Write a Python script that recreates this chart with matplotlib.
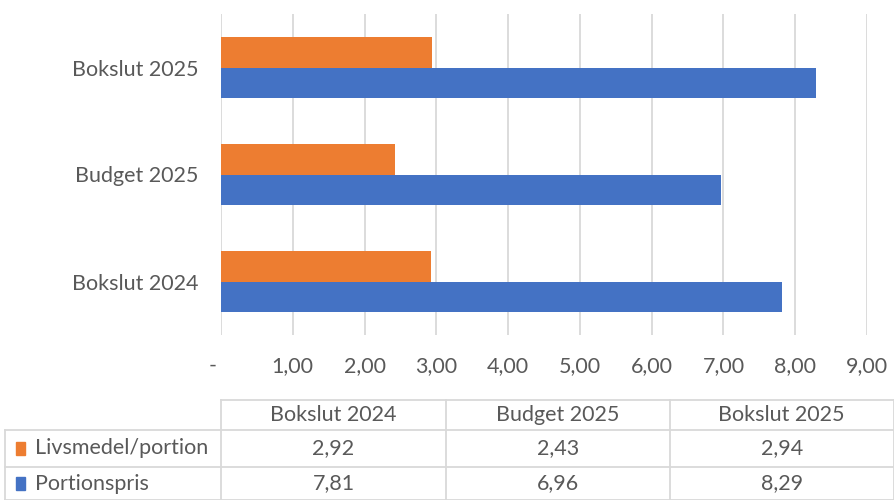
import matplotlib
matplotlib.use("Agg")
import matplotlib.pyplot as plt
from matplotlib.patches import Rectangle

categories = ["Bokslut 2024", "Budget 2025", "Bokslut 2025"]
series_names = ["Livsmedel/portion", "Portionspris"]
livsmedel = [2.92, 2.43, 2.94]
portionspris = [7.81, 6.96, 8.29]
x_ticks = [0, 1, 2, 3, 4, 5, 6, 7, 8, 9]

ORANGE = "#ED7D31"
BLUE = "#4472C4"
GRID = "#D9D9D9"
TXT = "#595959"
FONT = "Lato"
FS = 15.5

plt.rcParams['font.family'] = [FONT, 'DejaVu Sans']

W, H = 894, 500
fig = plt.figure(figsize=(W / 100, H / 100), dpi=100)

# main plot area in pixel terms
left, right, top, bottom = 221, 867, 14, 335
ax = fig.add_axes([left / W, 1 - bottom / H, (right - left) / W, (bottom - top) / H])

y = list(range(len(categories)))
h = 0.285
ax.barh([v + h / 2 for v in y], livsmedel, height=h, color=ORANGE, zorder=3)
ax.barh([v - h / 2 for v in y], portionspris, height=h, color=BLUE, zorder=3)

ax.set_xlim(0, 9)
ax.set_ylim(-0.5, len(categories) - 0.5)
ax.set_xticks(x_ticks)
ax.set_xticklabels(["-   "] + [f"{t:.2f}".replace(".", ",") for t in x_ticks[1:]])
ax.set_yticks(y)
ax.set_yticklabels(categories)
ax.grid(axis="x", color=GRID, linewidth=1.3, zorder=0)
for s in ax.spines.values():
    s.set_visible(False)
ax.tick_params(axis="both", length=0, colors=TXT, labelsize=FS)
ax.tick_params(axis="x", pad=15)
ax.tick_params(axis="y", pad=16.5)

# data table drawn in pixel coordinates
tab = fig.add_axes([0, 0, 1, 1])
tab.set_xlim(0, W)
tab.set_ylim(H, 0)
tab.axis("off")

col_edges = [221, 446, 670, 893.5]
row_edges = [400, 430, 467, 500]
lab_left = 5
lw = 1.3
# horizontal lines
tab.plot([col_edges[0], col_edges[-1]], [row_edges[0], row_edges[0]], color=GRID, lw=lw)
for ry in row_edges[1:]:
    tab.plot([lab_left, col_edges[-1]], [ry, ry], color=GRID, lw=lw)
# vertical lines
for cx in col_edges:
    tab.plot([cx, cx], [row_edges[0], row_edges[-1]], color=GRID, lw=lw)
tab.plot([lab_left, lab_left], [row_edges[1], row_edges[-1]], color=GRID, lw=lw)

for i, c in enumerate(categories):
    cx = (col_edges[i] + col_edges[i + 1]) / 2
    tab.text(cx, (row_edges[0] + row_edges[1]) / 2, c, ha="center", va="center",
             color=TXT, fontsize=FS)

for r, (name, vals, col) in enumerate([(series_names[0], livsmedel, ORANGE),
                                       (series_names[1], portionspris, BLUE)]):
    cy = (row_edges[r + 1] + row_edges[r + 2]) / 2
    tab.add_patch(Rectangle((16, cy - 6.5), 9, 13, color=col))
    tab.text(35, cy, name, ha="left", va="center", color=TXT, fontsize=FS)
    for i, v in enumerate(vals):
        cx = (col_edges[i] + col_edges[i + 1]) / 2
        tab.text(cx, cy, f"{v:.2f}".replace(".", ","), ha="center", va="center",
                 color=TXT, fontsize=FS)

fig.savefig("out.png", dpi=100)
